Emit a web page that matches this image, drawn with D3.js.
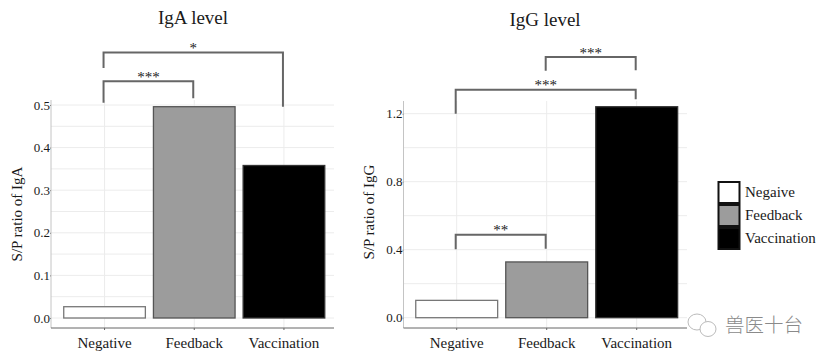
<!DOCTYPE html>
<html>
<head>
<meta charset="utf-8">
<script src="https://cdn.jsdelivr.net/npm/d3@7"></script>
<style>
  html, body { margin: 0; padding: 0; background: #fff; }
  svg { display: block; }
  text { font-family: "Liberation Serif", serif; fill: #1a1a1a; }
</style>
</head>
<body>
<div id="chart"></div>
<script>
// Chart values
const categories = ["Negative", "Feedback", "Vaccination"];
const legendLabels = ["Negaive", "Feedback", "Vaccination"];

const igaValues = [0.0265, 0.496, 0.358];
const iggValues = [0.102, 0.328, 1.241];

const igaTicks = [0, 0.1, 0.2, 0.3, 0.4, 0.5];
const igaMinorTicks = [0.05, 0.15, 0.25, 0.35, 0.45];
const iggTicks = [0, 0.4, 0.8, 1.2];
const iggMinorTicks = [0.2, 0.6, 1.0];

// Significance brackets: from, to, top value, left end value, right end value, stars
const igaBrackets = [
  ["Negative", "Vaccination", 0.623, 0.587, 0.496, "*"],
  ["Negative", "Feedback", 0.556, 0.505, 0.516, "***"]
];
const iggBrackets = [
  ["Feedback", "Vaccination", 1.533, 1.452, 1.456, "***"],
  ["Negative", "Vaccination", 1.341, 1.2, 1.285, "***"],
  ["Negative", "Feedback", 0.488, 0.402, 0.405, "**"]
];

const fills = ["#ffffff", "#9c9c9c", "#000000"];
const strokes = ["#777777", "#555555", "#333333"];

const svg = d3.select("#chart")
  .append("svg")
  .attr("width", 830)
  .attr("height", 362);

// Draw one bar panel
function drawPanel(opts) {
  const g = svg.append("g");

  const x = d3.scaleBand()
    .domain(categories)
    .range(opts.bandRange)
    .paddingInner(0.09)
    .paddingOuter(0.045);

  const y = d3.scaleLinear()
    .domain([0, opts.topTick])
    .range([opts.zeroY, opts.topY]);

  const center = d => x(d) + x.bandwidth() / 2;
  const gridColor = "#ececec";

  // Grid lines
  g.selectAll(".grid-h")
    .data(opts.ticks.concat(opts.minorTicks))
    .join("line")
    .attr("x1", opts.left)
    .attr("x2", opts.right)
    .attr("y1", d => y(d))
    .attr("y2", d => y(d))
    .attr("stroke", gridColor)
    .attr("stroke-width", 1);

  g.selectAll(".grid-v")
    .data(categories)
    .join("line")
    .attr("x1", center)
    .attr("x2", center)
    .attr("y1", opts.gridTop)
    .attr("y2", opts.bottom)
    .attr("stroke", gridColor)
    .attr("stroke-width", 1);

  // Bars
  g.selectAll(".bar")
    .data(opts.values)
    .join("rect")
    .attr("x", (d, i) => x(categories[i]))
    .attr("y", d => y(d))
    .attr("width", x.bandwidth())
    .attr("height", d => y(0) - y(d))
    .attr("fill", (d, i) => fills[i])
    .attr("stroke", (d, i) => strokes[i])
    .attr("stroke-width", 1.3);

  // Axes
  const yAxis = g.append("g")
    .attr("transform", `translate(${opts.left},0)`)
    .call(d3.axisLeft(y).tickValues(opts.ticks).tickFormat(d3.format(".1f")).tickSize(1).tickPadding(0));
  yAxis.select(".domain").attr("d", `M0,${opts.gridTop}V${opts.bottom}`).attr("stroke", "#c4c4c4");
  yAxis.selectAll(".tick line").attr("stroke", "#888");
  yAxis.selectAll("text").attr("font-size", 13).attr("font-family", "Liberation Serif").attr("fill", "#1a1a1a");

  const xAxis = g.append("g")
    .attr("transform", `translate(0,${opts.bottom})`)
    .call(d3.axisBottom(x).tickSize(2).tickPadding(7));
  xAxis.select(".domain").attr("d", `M${opts.left},0H${opts.right}`).attr("stroke", "#666");
  xAxis.selectAll(".tick line").attr("stroke", "#666");
  xAxis.selectAll("text").attr("font-size", 15).attr("font-family", "Liberation Serif").attr("fill", "#1a1a1a");

  // Brackets with stars
  opts.brackets.forEach(b => {
    const x1 = center(b[0]) - 1;
    const x2 = center(b[1]) - 1;
    g.append("path")
      .attr("d", d3.line()([[x1, y(b[3])], [x1, y(b[2])], [x2, y(b[2])], [x2, y(b[4])]]))
      .attr("fill", "none")
      .attr("stroke", "#666")
      .attr("stroke-width", 2);
    g.append("text")
      .attr("x", (x1 + x2) / 2)
      .attr("y", y(b[2]) + 0.5)
      .attr("text-anchor", "middle")
      .attr("font-size", 15)
      .text(b[5]);
  });

  // Title and y label
  g.append("text")
    .attr("x", opts.titleX)
    .attr("y", opts.titleY)
    .attr("text-anchor", "middle")
    .attr("font-size", 19)
    .text(opts.title);

  g.append("text")
    .attr("transform", `translate(${opts.labelX},${opts.labelY}) rotate(-90)`)
    .attr("text-anchor", "middle")
    .attr("font-size", 15)
    .text(opts.yLabel);
}

drawPanel({
  title: "IgA level", titleX: 193, titleY: 24,
  yLabel: "S/P ratio of IgA", labelX: 22, labelY: 214,
  values: igaValues, ticks: igaTicks, minorTicks: igaMinorTicks, brackets: igaBrackets,
  topTick: 0.5, zeroY: 318, topY: 105, gridTop: 100, bottom: 328,
  left: 51, right: 334, bandRange: [59.7, 328.8]
});

drawPanel({
  title: "IgG level", titleX: 545, titleY: 26,
  yLabel: "S/P ratio of IgG", labelX: 374, labelY: 212,
  values: iggValues, ticks: iggTicks, minorTicks: iggMinorTicks, brackets: iggBrackets,
  topTick: 1.2, zeroY: 317.7, topY: 113.7, gridTop: 101, bottom: 328,
  left: 403.5, right: 687, bandRange: [411.7, 681.7]
});

// Legend
const legendY = d3.scaleBand()
  .domain(legendLabels.map((d, i) => i))
  .range([181, 250]);

const legend = svg.append("g");
legend.selectAll("rect")
  .data(legendLabels)
  .join("rect")
  .attr("x", 718.5)
  .attr("y", (d, i) => legendY(i) + 1)
  .attr("width", 21)
  .attr("height", legendY.bandwidth() - 2)
  .attr("fill", (d, i) => fills[i])
  .attr("stroke", "#111")
  .attr("stroke-width", 2);

legend.selectAll("text")
  .data(legendLabels)
  .join("text")
  .attr("x", 745)
  .attr("y", (d, i) => legendY(i) + legendY.bandwidth() / 2 + 4)
  .attr("font-size", 15)
  .text(d => d);

// Watermark
const mark = svg.append("g").attr("fill", "none").attr("stroke", "#bbbbbb").attr("stroke-width", 1);
mark.append("ellipse").attr("cx", 697).attr("cy", 322).attr("rx", 9).attr("ry", 8).attr("fill", "#fff");
mark.append("ellipse").attr("cx", 708).attr("cy", 329).attr("rx", 8).attr("ry", 7.5).attr("fill", "#fff");

svg.append("text")
  .attr("x", 725)
  .attr("y", 332)
  .attr("font-size", 19.5)
  .style("font-family", '"Noto Sans CJK SC"')
  .style("font-weight", 300)
  .style("fill", "#8a8a8a")
  .text("兽医十台");
</script>
</body>
</html>
